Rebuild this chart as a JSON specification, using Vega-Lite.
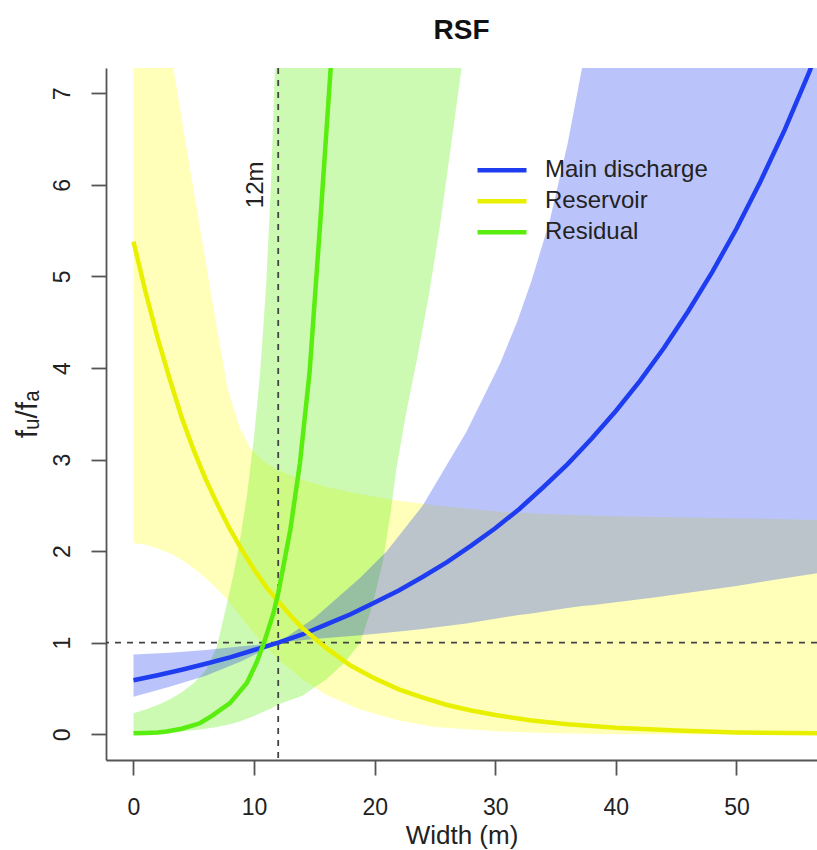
{
  "$schema": "https://vega.github.io/schema/vega-lite/v6.json",
  "width": 711,
  "height": 692,
  "autosize": {"type": "none"},
  "padding": {"left": 106, "top": 68, "right": 0, "bottom": 90},
  "title": {"text": "RSF", "fontSize": 28, "fontWeight": "bold", "anchor": "middle", "color": "#111", "font": "Liberation Sans", "offset": 22},
  "config": {
    "font": "Liberation Sans",
    "view": {"stroke": null},
    "axis": {"grid": false, "domainColor": "#555", "domainWidth": 1.8, "tickColor": "#555", "tickWidth": 1.8, "tickSize": 15, "labelFontSize": 23, "labelColor": "#222", "titleFontSize": 27, "titleFontWeight": "normal", "titleColor": "#222", "labelFont": "Liberation Sans", "titleFont": "Liberation Sans", "labelFlush": false, "labelOverlap": false, "format": "d"},
    "axisX": {"labelPadding": 21, "titlePadding": 3, "titleFontSize": 26},
    "axisY": {"labelAngle": -90, "labelPadding": 17, "titlePadding": 9, "titleFontSize": 30}
  },
  "datasets": {
    "bandMain": [
      {"x": 0, "lo": 0.41, "hi": 0.87}, {"x": 3, "lo": 0.52, "hi": 0.89}, {"x": 6, "lo": 0.64, "hi": 0.92},
      {"x": 9, "lo": 0.80, "hi": 0.96}, {"x": 12, "lo": 1.0, "hi": 1.0}, {"x": 15, "lo": 1.04, "hi": 1.27},
      {"x": 18.8, "lo": 1.08, "hi": 1.71}, {"x": 21, "lo": 1.11, "hi": 2.0}, {"x": 24, "lo": 1.15, "hi": 2.5},
      {"x": 27.6, "lo": 1.21, "hi": 3.3}, {"x": 30.4, "lo": 1.27, "hi": 4.05}, {"x": 31.8, "lo": 1.30, "hi": 4.5},
      {"x": 33, "lo": 1.32, "hi": 4.95}, {"x": 34.5, "lo": 1.35, "hi": 5.6}, {"x": 36, "lo": 1.38, "hi": 6.45},
      {"x": 37.2, "lo": 1.40, "hi": 7.28}, {"x": 38, "lo": 1.41, "hi": 7.9}, {"x": 43.5, "lo": 1.50, "hi": 12},
      {"x": 50, "lo": 1.62, "hi": 12}, {"x": 56.7, "lo": 1.76, "hi": 12}, {"x": 58, "lo": 1.78, "hi": 12}
    ],
    "bandRes": [
      {"x": 0, "lo": 2.09, "hi": 9.9}, {"x": 1, "lo": 2.07, "hi": 9.1}, {"x": 2, "lo": 2.03, "hi": 8.3},
      {"x": 3.3, "lo": 1.96, "hi": 7.28}, {"x": 4.4, "lo": 1.87, "hi": 6.4}, {"x": 5.5, "lo": 1.76, "hi": 5.54},
      {"x": 6.7, "lo": 1.62, "hi": 4.6}, {"x": 7.8, "lo": 1.47, "hi": 3.78}, {"x": 8.8, "lo": 1.30, "hi": 3.35},
      {"x": 9.7, "lo": 1.15, "hi": 3.12}, {"x": 10.8, "lo": 0.98, "hi": 2.98}, {"x": 12, "lo": 0.82, "hi": 2.88},
      {"x": 14, "lo": 0.60, "hi": 2.78}, {"x": 16, "lo": 0.43, "hi": 2.70}, {"x": 18.8, "lo": 0.27, "hi": 2.62},
      {"x": 22, "lo": 0.15, "hi": 2.55}, {"x": 25, "lo": 0.08, "hi": 2.50}, {"x": 30.4, "lo": 0.03, "hi": 2.43},
      {"x": 35, "lo": 0.01, "hi": 2.40}, {"x": 40, "lo": 0.0, "hi": 2.38}, {"x": 45, "lo": 0.0, "hi": 2.37},
      {"x": 50, "lo": 0.0, "hi": 2.36}, {"x": 56.7, "lo": 0.0, "hi": 2.34}, {"x": 58, "lo": 0.0, "hi": 2.34}
    ],
    "bandResid": [
      {"x": 0, "lo": 0.0, "hi": 0.23}, {"x": 1, "lo": 0.005, "hi": 0.27}, {"x": 2, "lo": 0.01, "hi": 0.32},
      {"x": 3, "lo": 0.02, "hi": 0.38}, {"x": 4, "lo": 0.03, "hi": 0.46}, {"x": 5, "lo": 0.045, "hi": 0.56},
      {"x": 6, "lo": 0.06, "hi": 0.70}, {"x": 6.9, "lo": 0.08, "hi": 0.95}, {"x": 7.7, "lo": 0.10, "hi": 1.4},
      {"x": 8.3, "lo": 0.12, "hi": 1.75}, {"x": 8.8, "lo": 0.14, "hi": 2.1}, {"x": 9.4, "lo": 0.17, "hi": 2.6},
      {"x": 10.0, "lo": 0.2, "hi": 3.25}, {"x": 10.5, "lo": 0.23, "hi": 3.95}, {"x": 11.0, "lo": 0.26, "hi": 4.9},
      {"x": 11.4, "lo": 0.28, "hi": 6.0}, {"x": 11.73, "lo": 0.31, "hi": 7.28}, {"x": 12.1, "lo": 0.33, "hi": 8.6},
      {"x": 14, "lo": 0.42, "hi": 12}, {"x": 16, "lo": 0.60, "hi": 12}, {"x": 17.5, "lo": 0.78, "hi": 12},
      {"x": 18.8, "lo": 1.0, "hi": 12}, {"x": 19.8, "lo": 1.4, "hi": 12}, {"x": 20.7, "lo": 1.9, "hi": 12},
      {"x": 21.3, "lo": 2.4, "hi": 12}, {"x": 21.8, "lo": 2.9, "hi": 12}, {"x": 22.6, "lo": 3.5, "hi": 12},
      {"x": 23.5, "lo": 4.09, "hi": 12}, {"x": 24.5, "lo": 4.8, "hi": 12}, {"x": 25.4, "lo": 5.54, "hi": 12},
      {"x": 26.3, "lo": 6.4, "hi": 12}, {"x": 27.2, "lo": 7.27, "hi": 12}, {"x": 28, "lo": 8.1, "hi": 12}
    ],
    "lines": [
      {"series": "Main discharge", "x": 0, "y": 0.59}, {"series": "Main discharge", "x": 2, "y": 0.645},
      {"series": "Main discharge", "x": 4, "y": 0.705}, {"series": "Main discharge", "x": 6, "y": 0.77},
      {"series": "Main discharge", "x": 8, "y": 0.84}, {"series": "Main discharge", "x": 10, "y": 0.92},
      {"series": "Main discharge", "x": 12, "y": 1.0}, {"series": "Main discharge", "x": 14, "y": 1.09},
      {"series": "Main discharge", "x": 16, "y": 1.2}, {"series": "Main discharge", "x": 18, "y": 1.31},
      {"series": "Main discharge", "x": 20, "y": 1.44}, {"series": "Main discharge", "x": 22, "y": 1.57},
      {"series": "Main discharge", "x": 24, "y": 1.72}, {"series": "Main discharge", "x": 26, "y": 1.88},
      {"series": "Main discharge", "x": 28, "y": 2.06}, {"series": "Main discharge", "x": 30, "y": 2.25},
      {"series": "Main discharge", "x": 32, "y": 2.46}, {"series": "Main discharge", "x": 34, "y": 2.7},
      {"series": "Main discharge", "x": 36, "y": 2.95}, {"series": "Main discharge", "x": 38, "y": 3.23},
      {"series": "Main discharge", "x": 40, "y": 3.53}, {"series": "Main discharge", "x": 42, "y": 3.86},
      {"series": "Main discharge", "x": 44, "y": 4.22}, {"series": "Main discharge", "x": 46, "y": 4.62},
      {"series": "Main discharge", "x": 48, "y": 5.05}, {"series": "Main discharge", "x": 50, "y": 5.52},
      {"series": "Main discharge", "x": 52, "y": 6.04}, {"series": "Main discharge", "x": 54, "y": 6.6},
      {"series": "Main discharge", "x": 56, "y": 7.22}, {"series": "Main discharge", "x": 57, "y": 7.55},
      {"series": "Reservoir", "x": 0, "y": 5.38}, {"series": "Reservoir", "x": 1, "y": 4.83},
      {"series": "Reservoir", "x": 2, "y": 4.33}, {"series": "Reservoir", "x": 3, "y": 3.88},
      {"series": "Reservoir", "x": 4, "y": 3.46}, {"series": "Reservoir", "x": 5, "y": 3.1},
      {"series": "Reservoir", "x": 6, "y": 2.78}, {"series": "Reservoir", "x": 7, "y": 2.5},
      {"series": "Reservoir", "x": 8, "y": 2.24}, {"series": "Reservoir", "x": 9, "y": 2.01},
      {"series": "Reservoir", "x": 10, "y": 1.8}, {"series": "Reservoir", "x": 11, "y": 1.61},
      {"series": "Reservoir", "x": 12, "y": 1.45}, {"series": "Reservoir", "x": 13, "y": 1.3},
      {"series": "Reservoir", "x": 14, "y": 1.16}, {"series": "Reservoir", "x": 15, "y": 1.05},
      {"series": "Reservoir", "x": 16, "y": 0.94}, {"series": "Reservoir", "x": 18, "y": 0.75},
      {"series": "Reservoir", "x": 20, "y": 0.61}, {"series": "Reservoir", "x": 22, "y": 0.49},
      {"series": "Reservoir", "x": 24, "y": 0.4}, {"series": "Reservoir", "x": 26, "y": 0.32},
      {"series": "Reservoir", "x": 28, "y": 0.26}, {"series": "Reservoir", "x": 30, "y": 0.21},
      {"series": "Reservoir", "x": 33, "y": 0.15}, {"series": "Reservoir", "x": 36, "y": 0.11},
      {"series": "Reservoir", "x": 40, "y": 0.07}, {"series": "Reservoir", "x": 45, "y": 0.04},
      {"series": "Reservoir", "x": 50, "y": 0.02}, {"series": "Reservoir", "x": 56.7, "y": 0.01},
      {"series": "Residual", "x": 0, "y": 0.01}, {"series": "Residual", "x": 1, "y": 0.015},
      {"series": "Residual", "x": 2, "y": 0.02}, {"series": "Residual", "x": 2.75, "y": 0.03},
      {"series": "Residual", "x": 4, "y": 0.06}, {"series": "Residual", "x": 5.5, "y": 0.12},
      {"series": "Residual", "x": 6.5, "y": 0.2}, {"series": "Residual", "x": 8.0, "y": 0.34},
      {"series": "Residual", "x": 9.4, "y": 0.56}, {"series": "Residual", "x": 10.2, "y": 0.78},
      {"series": "Residual", "x": 10.8, "y": 0.99}, {"series": "Residual", "x": 11.6, "y": 1.32},
      {"series": "Residual", "x": 12, "y": 1.54}, {"series": "Residual", "x": 13, "y": 2.23},
      {"series": "Residual", "x": 13.8, "y": 2.96}, {"series": "Residual", "x": 14.6, "y": 3.95},
      {"series": "Residual", "x": 15.46, "y": 5.54}, {"series": "Residual", "x": 16.35, "y": 7.27},
      {"series": "Residual", "x": 16.6, "y": 7.8}
    ]
  },
  "layer": [
    {
      "data": {"name": "bandRes"},
      "mark": {"type": "area", "color": "#FFFF00", "opacity": 0.27, "clip": true},
      "encoding": {
        "x": {"field": "x", "type": "quantitative", "title": "Width (m)",
          "scale": {"domain": [-2.28, 56.68], "nice": false, "zero": false},
          "axis": {"values": [0, 10, 20, 30, 40, 50]}},
        "y": {"field": "lo", "type": "quantitative", "title": "fᵤ/fₐ",
          "scale": {"domain": [-0.281, 7.276], "nice": false, "zero": false},
          "axis": {"values": [0, 1, 2, 3, 4, 5, 6, 7]}},
        "y2": {"field": "hi"}
      }
    },
    {
      "data": {"name": "bandResid"},
      "mark": {"type": "area", "color": "#55F000", "opacity": 0.3, "clip": true},
      "encoding": {
        "x": {"field": "x", "type": "quantitative", "title": "Width (m)"},
        "y": {"field": "lo", "type": "quantitative", "title": "fᵤ/fₐ"},
        "y2": {"field": "hi"}
      }
    },
    {
      "data": {"name": "bandMain"},
      "mark": {"type": "area", "color": "#1E3CF0", "opacity": 0.3, "clip": true},
      "encoding": {
        "x": {"field": "x", "type": "quantitative", "title": "Width (m)"},
        "y": {"field": "lo", "type": "quantitative", "title": "fᵤ/fₐ"},
        "y2": {"field": "hi"}
      }
    },
    {
      "data": {"values": [{}]},
      "mark": {"type": "rule", "color": "#444", "strokeWidth": 1.8, "strokeDash": [6, 6]},
      "encoding": {"y": {"datum": 1, "type": "quantitative", "title": "fᵤ/fₐ"}}
    },
    {
      "data": {"values": [{}]},
      "mark": {"type": "rule", "color": "#444", "strokeWidth": 1.8, "strokeDash": [6, 6]},
      "encoding": {"x": {"datum": 12, "type": "quantitative", "title": "Width (m)"}}
    },
    {
      "data": {"values": [{}]},
      "mark": {"type": "text", "angle": 270, "fontSize": 24, "color": "#222", "align": "center", "baseline": "alphabetic", "dy": -15, "font": "Liberation Sans"},
      "encoding": {
        "x": {"datum": 12, "type": "quantitative", "title": "Width (m)"},
        "y": {"datum": 6.0, "type": "quantitative", "title": "fᵤ/fₐ"},
        "text": {"value": "12m"}
      }
    },
    {
      "data": {"name": "lines"},
      "mark": {"type": "line", "strokeWidth": 4.5, "clip": true},
      "encoding": {
        "x": {"field": "x", "type": "quantitative", "title": "Width (m)"},
        "y": {"field": "y", "type": "quantitative", "title": "fᵤ/fₐ"},
        "color": {"field": "series", "type": "nominal",
          "scale": {"domain": ["Main discharge", "Reservoir", "Residual"], "range": ["#1E3CF0", "#E8F000", "#5AED10"]},
          "legend": {"orient": "none", "legendX": 369, "legendY": 87, "title": null, "symbolType": "stroke", "symbolSize": 2401, "symbolStrokeWidth": 4.5, "clipHeight": 30.5, "rowPadding": 0, "padding": 0, "labelFontSize": 24, "labelOffset": 16, "labelLimit": 400, "labelColor": "#222", "labelFont": "Liberation Sans", "symbolOpacity": 1}
        }
      }
    }
  ]
}
